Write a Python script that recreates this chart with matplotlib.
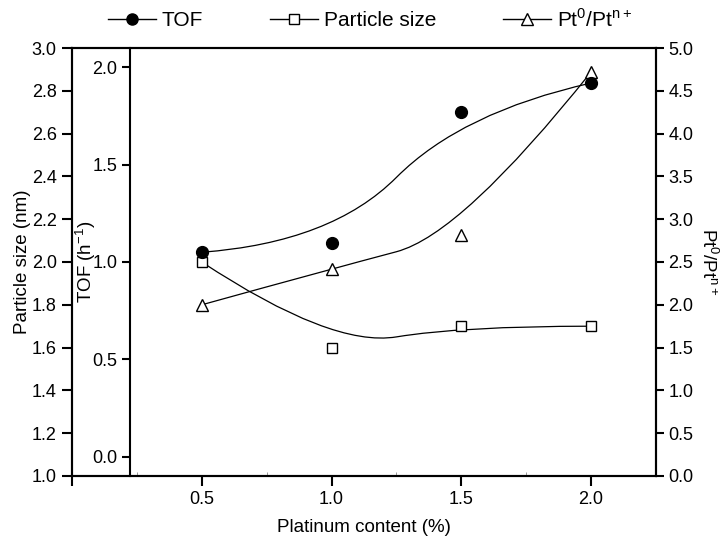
import matplotlib
matplotlib.use("Agg")
import matplotlib.pyplot as plt
from matplotlib.path import Path
from matplotlib.patches import PathPatch
from matplotlib.lines import Line2D
from matplotlib.ticker import MultipleLocator

plt.rcParams['font.family'] = ['Liberation Sans', 'DejaVu Sans']
plt.rcParams['mathtext.fontset'] = 'custom'
plt.rcParams['mathtext.rm'] = 'Liberation Sans'

# data
pt_content = [0.5, 1.0, 1.5, 2.0]
tof = [1.05, 1.10, 1.77, 1.92]
particle_size = [2.00, 1.60, 1.70, 1.70]
pt_ratio = [2.00, 2.42, 2.82, 4.72]


def bspline(ax, xs, ys, lw=0.9):
    # quadratic B-spline through the end points, inner points act as controls
    verts = [(xs[0], ys[0])]
    codes = [Path.MOVETO]
    n = len(xs)
    for i in range(1, n - 1):
        verts.append((xs[i], ys[i]))
        if i < n - 2:
            verts.append(((xs[i] + xs[i + 1]) / 2, (ys[i] + ys[i + 1]) / 2))
        else:
            verts.append((xs[n - 1], ys[n - 1]))
        codes += [Path.CURVE3, Path.CURVE3]
    patch = PathPatch(Path(verts, codes), facecolor='none', edgecolor='k',
                      lw=lw, transform=ax.transData)
    ax.add_patch(patch)


fs_tick = 13
fs_label = 13.5
fs_legend = 15

pt_label = 'Pt$^{\\mathrm{0}}$/Pt$^{\\mathrm{n+}}$'

fig = plt.figure(figsize=(7.23, 5.43), dpi=100)
ax = fig.add_axes([0.0996, 0.1234, 0.8077, 0.7882])
ax_r = ax.twinx()
ax_t = ax.twinx()

# main axis: particle size
ax.set_xlim(0, 2.25)
ax.set_ylim(1.0, 3.0)
ax.set_xticks([0, 0.5, 1.0, 1.5, 2.0])
ax.set_xticklabels(['', '0.5', '1.0', '1.5', '2.0'])
ax.xaxis.set_minor_locator(MultipleLocator(0.25))
ax.yaxis.set_major_locator(MultipleLocator(0.2))
ax.yaxis.set_major_formatter(plt.FormatStrFormatter('%.1f'))
ax.tick_params(axis='both', which='major', direction='out', length=7, width=1.5,
               labelsize=fs_tick, pad=4)
ax.tick_params(axis='x', which='minor', direction='in', length=3, width=0.6,
               color='#888888', bottom=True, top=False)
for s in ax.spines.values():
    s.set_linewidth(1.5)
ax.set_xlabel('Platinum content (%)', fontsize=fs_label, labelpad=8)
ax.set_ylabel('Particle size (nm)', fontsize=fs_label)
ax.yaxis.set_label_coords(-0.070, 0.5)
ax.plot(pt_content, particle_size, ls='none', marker='s', ms=6.5, mfc='white',
        mec='k', mew=1.0, zorder=5)
bspline(ax, pt_content, particle_size)

# right axis: Pt0/Ptn+
ax_r.set_ylim(0, 5.0)
ax_r.yaxis.set_major_locator(MultipleLocator(0.5))
ax_r.yaxis.set_major_formatter(plt.FormatStrFormatter('%.1f'))
ax_r.tick_params(axis='y', direction='out', length=6, width=1.5,
                 labelsize=fs_tick, pad=3)
for s in ax_r.spines.values():
    s.set_linewidth(1.5)
ax_r.set_ylabel(pt_label, fontsize=fs_label, rotation=270, labelpad=18)
ax_r.plot(pt_content, pt_ratio, ls='none', marker='^', ms=9, mfc='white',
          mec='k', mew=1.0, zorder=5)
bspline(ax_r, pt_content, pt_ratio)

# inner axis: TOF
ax_t.set_ylim(-0.1, 2.1)
ax_t.yaxis.set_ticks_position('left')
ax_t.yaxis.set_label_position('left')
ax_t.spines['left'].set_position(('axes', 0.0993))
ax_t.spines['left'].set_linewidth(1.5)
for side in ['right', 'top', 'bottom']:
    ax_t.spines[side].set_visible(False)
ax_t.yaxis.set_major_locator(MultipleLocator(0.5))
ax_t.yaxis.set_major_formatter(plt.FormatStrFormatter('%.1f'))
ax_t.tick_params(axis='y', direction='out', length=6, width=1.5,
                 labelsize=fs_tick, pad=3)
ax_t.set_ylabel('TOF (h$^{-1}$)', fontsize=fs_label)
ax_t.yaxis.set_label_coords(0.044, 0.5)
ax_t.plot(pt_content, tof, ls='none', marker='o', ms=8.5, mfc='k', mec='k',
          zorder=5)
bspline(ax_t, pt_content, tof)

# legend across the top
handles = [
    Line2D([], [], color='k', lw=1.0, marker='o', ms=8, mfc='k'),
    Line2D([], [], color='k', lw=1.0, marker='s', ms=6.5, mfc='white'),
    Line2D([], [], color='k', lw=1.0, marker='^', ms=8.5, mfc='white'),
]
labels = ['TOF', 'Particle size', pt_label]
fig.legend(handles, labels, loc='center', bbox_to_anchor=(0.512, 0.965), ncol=3,
           frameon=False, fontsize=fs_legend, handlelength=2.3,
           handletextpad=0.3, columnspacing=3.2)

fig.savefig('out.png', dpi=100)
